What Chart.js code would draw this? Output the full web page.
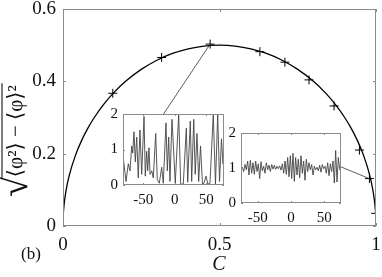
<!DOCTYPE html>
<html><head><meta charset="utf-8">
<script src="https://cdn.jsdelivr.net/npm/chart.js@4/dist/chart.umd.min.js"></script>
<style>
html,body{margin:0;padding:0;background:#fff;}
#wrap{position:relative;width:382px;height:277px;overflow:hidden;}
canvas{position:absolute;}
</style></head>
<body>
<div id="wrap">
<canvas id="main" width="382" height="277" style="left:0;top:0;width:382px;height:277px"></canvas>
<canvas id="in1" width="130" height="104" style="left:100px;top:104px;width:130px;height:104px"></canvas>
<canvas id="in2" width="130" height="104" style="left:218px;top:123px;width:130px;height:104px"></canvas>
</div>
<script>
// ---- data ----
const curveC = [0,0.001,0.0025,0.005,0.01,0.02,0.04,0.06,0.08,0.1,0.13,0.16,0.2,0.25,0.3,0.35,0.4,0.45,0.5,0.55,0.6,0.65,0.7,0.75,0.8,0.84,0.87,0.9,0.92,0.94,0.96,0.98,0.99,0.995,0.9975,0.999,1];
const curveY = [0,0.0316,0.0499,0.0705,0.0995,0.14,0.196,0.2375,0.2713,0.3,0.3363,0.3666,0.4,0.433,0.4583,0.477,0.4899,0.4975,0.5,0.4975,0.4899,0.477,0.4583,0.433,0.4,0.3666,0.3363,0.3,0.2713,0.2375,0.196,0.14,0.0995,0.0705,0.0499,0.0316,0];
const markC = [0.159,0.315,0.47,0.629,0.709,0.786,0.866,0.947,0.979,0.999];
const markY = [0.367,0.466,0.503,0.482,0.453,0.404,0.332,0.210,0.131,0.035];
const mainXTicks = [0,0.5,1];
const mainYTicks = [0,0.2,0.4,0.6];

const in1X = [-81.5,-77.2,-73.6,-70.9,-68.2,-66.6,-64.6,-62.5,-60.3,-57.8,-55.1,-52.4,-48.7,-46.7,-44.5,-42.9,-40.8,-39.2,-36.5,-34.0,-30.2,-27.7,-24.5,-20.7,-18.2,-13.9,-11.8,-9.6,-7.6,-4.4,-2.3,0.8,6.2,9.4,13.5,18.3,20.5,24.6,26.8,30.1,32.4,35.2,37.9,40.8,43.9,46.3,49.5,52.6,55.8,61.0,64.5,68.0,70.9,74.0,76.4,78.0];
const in1Y = [0.75,0.1,0.6,0.4,1.1,0.9,1.5,0.65,1.35,0.2,1.55,0.3,1.93,0.25,0.95,0.4,1.05,0.3,0.4,0.2,1.45,0.15,0.05,0.5,0.05,1.75,0.4,1.35,0.1,1.85,1.15,0.05,2.0,0.02,0.03,1.6,0.08,1.8,0.1,1.85,0.3,1.45,0.1,1.1,0.02,0.05,0.25,0.02,0.05,2.0,0.02,2.0,0.1,1.3,0.6,1.0];
const in2X = [-75,-73,-71,-69,-67,-65,-63,-61,-59,-57,-55,-53,-51,-49,-47,-45,-43,-41,-39,-37,-35,-33,-31,-29,-27,-25,-23,-21,-19,-17,-15,-13,-11,-9,-7,-5,-3,-1,1,3,5,7,9,11,13,15,17,19,21,23,25,27,29,31,33,35,37,39,41,43,45,47,49,51,53,55,57,59,61,63,65,67,69,71,73,75];
const in2Y = [0.92,1.02,0.9,1.1,0.95,1.2,0.8,1.22,0.85,1.15,0.82,1.2,0.9,1.12,0.7,1.18,0.92,1.05,0.85,1.15,0.95,1.08,0.9,1.1,0.97,1.08,0.96,1.05,0.98,1.06,0.94,1.12,0.85,1.2,0.82,1.3,0.75,1.35,0.7,1.42,0.62,1.3,0.8,1.25,0.72,1.35,0.85,1.2,0.65,1.25,0.9,1.15,0.95,1.1,0.8,1.05,0.95,1.02,0.92,1.08,0.88,1.1,0.98,1.05,0.85,1.15,0.78,1.12,0.9,1.2,0.57,1.5,0.6,1.3,0.95,1.1];
const insetXTicks = [-50,0,50];
const insetYTicks = [0,1,2];

const SERIF = "'Liberation Serif', 'DejaVu Serif', serif";
const BOX = '#8c8c8c';

function noPad(s){ s.paddingTop=0; s.paddingBottom=0; s.paddingLeft=0; s.paddingRight=0; }

function frame(chart, xt, yt, len){
  const {ctx, chartArea:a, scales} = chart;
  ctx.save();
  ctx.strokeStyle = BOX; ctx.lineWidth = 1;
  ctx.strokeRect(Math.round(a.left)+0.5, Math.round(a.top)+0.5, Math.round(a.right-a.left)-1, Math.round(a.bottom-a.top)-1);
  ctx.beginPath();
  xt.forEach(v=>{const p=Math.round(scales.x.getPixelForValue(v))+0.5;
    ctx.moveTo(p,a.bottom); ctx.lineTo(p,a.bottom-len); ctx.moveTo(p,a.top); ctx.lineTo(p,a.top+len);});
  yt.forEach(v=>{const p=Math.round(scales.y.getPixelForValue(v))+0.5;
    ctx.moveTo(a.left,p); ctx.lineTo(a.left+len,p); ctx.moveTo(a.right,p); ctx.lineTo(a.right-len,p);});
  ctx.stroke();
  ctx.restore();
}

const mainPlugin = {
  id:'mainDeco',
  afterDatasetsDraw(chart){
    const {ctx, scales:{x,y}} = chart;
    frame(chart, mainXTicks, mainYTicks, 3);
    ctx.save();
    ctx.strokeStyle = '#333'; ctx.lineWidth = 0.8;
    ctx.beginPath();
    ctx.moveTo(x.getPixelForValue(markC[2]), y.getPixelForValue(markY[2]));
    ctx.lineTo(163.3, 114.3);
    ctx.moveTo(x.getPixelForValue(markC[8]), y.getPixelForValue(markY[8]));
    ctx.lineTo(340.5, 166.7);
    ctx.stroke();
    ctx.fillStyle = '#111';
    ctx.font = "italic 20px " + SERIF;
    ctx.textAlign = 'center'; ctx.textBaseline = 'middle';
    ctx.fillText('C', 219, 265);
    ctx.font = "17px " + SERIF;
    ctx.fillText('(b)', 31, 255);
    // y title
    ctx.translate(22, 197);
    ctx.rotate(-Math.PI/2);
    ctx.textAlign = 'left'; ctx.textBaseline = 'alphabetic';
    ctx.font = "38px " + SERIF;
    ctx.fillText('\u221A', 0, 5);
    const w0 = ctx.measureText('\u221A').width - 3;
    ctx.font = "21px " + SERIF;
    const s = '\u27E8\u03C6\u00B2\u27E9 \u2212 \u27E8\u03C6\u27E9\u00B2';
    ctx.fillText(s, w0 + 2, 0);
    const w1 = ctx.measureText(s).width;
    ctx.lineWidth = 1.1; ctx.strokeStyle = '#111';
    ctx.beginPath(); ctx.moveTo(w0, -20); ctx.lineTo(w0+w1+4, -20); ctx.stroke();
    ctx.restore();
  }
};

new Chart(document.getElementById('main'), {
  type:'scatter',
  data:{datasets:[
    {type:'line', data: curveC.map((c,i)=>({x:c,y:curveY[i]})), borderColor:'#000', borderWidth:1.3, pointRadius:0, cubicInterpolationMode:'monotone', fill:false},
    {data: markC.map((c,i)=>({x:c,y:markY[i]})), pointStyle:'cross', pointRadius:4.5, borderColor:'#000', borderWidth:1, backgroundColor:'#000'}
  ]},
  options:{
    responsive:false, animation:false, events:[],
    layout:{padding:{top:9,right:6,left:0,bottom:0}},
    plugins:{legend:{display:false}, tooltip:{enabled:false}},
    scales:{
      x:{type:'linear', min:0, max:1, afterFit(s){s.height=51; noPad(s);},
         afterBuildTicks(s){s.ticks = mainXTicks.map(v=>({value:v}));},
         grid:{display:false, drawTicks:false}, border:{display:false},
         ticks:{padding:8, maxRotation:0, color:'#111', font:{family:SERIF, size:19}, callback:v=>String(v)}},
      y:{type:'linear', min:0, max:0.6, afterFit(s){s.width=63; noPad(s);},
         afterBuildTicks(s){s.ticks = mainYTicks.map(v=>({value:v}));},
         grid:{display:false, drawTicks:false}, border:{display:false},
         ticks:{padding:7, color:'#111', font:{family:SERIF, size:19}, callback:v=>String(v)}}
    }
  },
  plugins:[mainPlugin]
});

function inset(id, xs, ys, xmin, xmax, right, xh){
  new Chart(document.getElementById(id), {
    type:'line',
    data:{datasets:[{data: xs.map((v,i)=>({x:v,y:ys[i]})), borderColor:'#444', borderWidth:0.9, pointRadius:0, tension:0}]},
    options:{
      responsive:false, animation:false, events:[],
      layout:{padding:{top:10,right:right,left:0,bottom:0}},
      plugins:{legend:{display:false}, tooltip:{enabled:false}},
      scales:{
        x:{type:'linear', min:xmin, max:xmax, afterFit(s){s.height=xh; noPad(s);},
           afterBuildTicks(s){s.ticks = insetXTicks.map(v=>({value:v}));},
           grid:{display:false, drawTicks:false}, border:{display:false},
           ticks:{padding:6, maxRotation:0, color:'#111', font:{family:SERIF, size:15}, callback:v=>String(v)}},
        y:{type:'linear', min:0, max:2, afterFit(s){s.width=23; noPad(s);},
           afterBuildTicks(s){s.ticks = insetYTicks.map(v=>({value:v}));},
           grid:{display:false, drawTicks:false}, border:{display:false},
           ticks:{padding:5, color:'#111', font:{family:SERIF, size:15}, callback:v=>String(v)}}
      }
    },
    plugins:[{id:'bg', beforeDatasetsDraw(c){const a=c.chartArea; c.ctx.save(); c.ctx.fillStyle='#fff'; c.ctx.fillRect(a.left,a.top,a.right-a.left,a.bottom-a.top); c.ctx.restore();},
              afterDatasetsDraw(c){frame(c, insetXTicks, insetYTicks, 2);}}]
  });
}
inset('in1', in1X, in1Y, -82, 78, 6, 23);
inset('in2', in2X, in2Y, -75, 75, 7, 24);
</script>
</body></html>
